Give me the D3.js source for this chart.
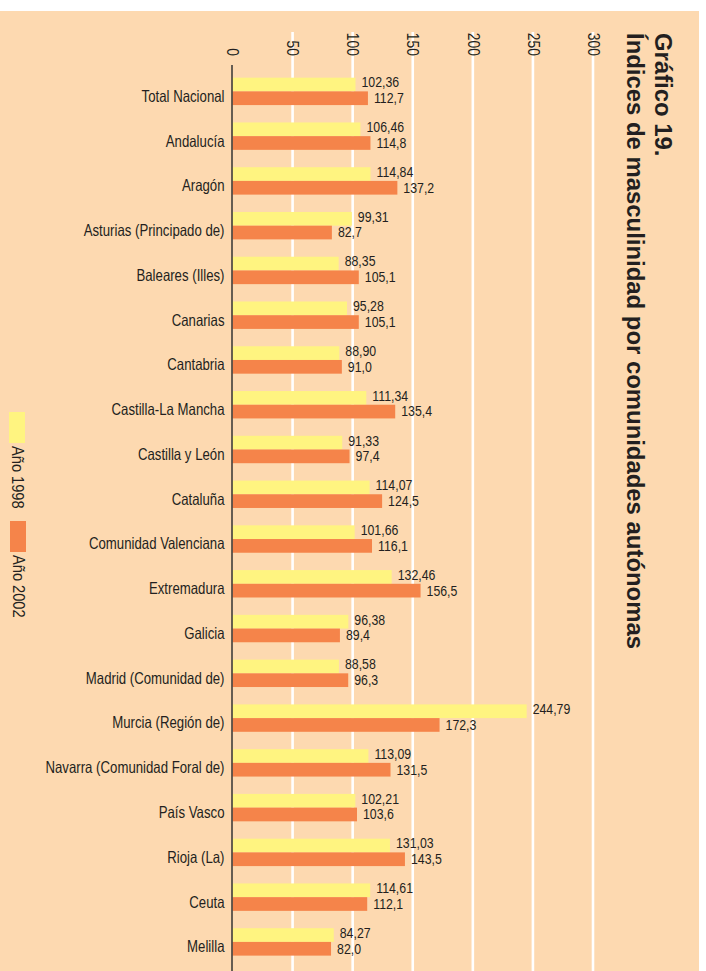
<!DOCTYPE html>
<html><head><meta charset="utf-8">
<script src="https://cdn.jsdelivr.net/npm/d3@7"></script>
<style>
html,body{margin:0;padding:0;background:#fff;}
svg{display:block;}
text{fill:#231f20;}
.nar{font-family:"Liberation Sans",Arial,sans-serif;}
</style></head>
<body><svg id="c" width="706" height="971"></svg>
<script>
const categories = ["Total Nacional","Andalucía","Aragón","Asturias (Principado de)","Baleares (Illes)","Canarias","Cantabria","Castilla-La Mancha","Castilla y León","Cataluña","Comunidad Valenciana","Extremadura","Galicia","Madrid (Comunidad de)","Murcia (Región de)","Navarra (Comunidad Foral de)","País Vasco","Rioja (La)","Ceuta","Melilla"];
const values1998 = [102.36,106.46,114.84,99.31,88.35,95.28,88.90,111.34,91.33,114.07,101.66,132.46,96.38,88.58,244.79,113.09,102.21,131.03,114.61,84.27];
const values2002 = [112.7,114.8,137.2,82.7,105.1,105.1,91.0,135.4,97.4,124.5,116.1,156.5,89.4,96.3,172.3,131.5,103.6,143.5,112.1,82.0];
const seriesNames = ["Año 1998","Año 2002"];
const tickValues = [0,50,100,150,200,250,300];
const titleLines = ["Gráfico 19.","Índices de masculinidad por comunidades autónomas"];

const colors = ["#fff480","#f5844a"];
const W = 706, H = 971;
const svg = d3.select("#c");

// condense text horizontally (reference uses a condensed typeface)
function condense(sel, f){
  sel.each(function(){
    const L = this.getComputedTextLength();
    d3.select(this).attr("textLength", L*f).attr("lengthAdjust","spacingAndGlyphs");
  });
}

svg.append("rect").attr("x",0).attr("y",11).attr("width",699).attr("height",H-11).attr("fill","#fdd9b0");

const x = d3.scaleLinear().domain([0,300]).range([232.5,593]);
const y = d3.scaleBand().domain(categories).range([69.1,964.4]);
const sub = d3.scaleBand().domain(seriesNames).range([-13.8,13.6]);

// gridlines
svg.append("g").selectAll("line").data(tickValues.filter(d=>d>0)).join("line")
  .attr("x1",d=>x(d)).attr("x2",d=>x(d)).attr("y1",32).attr("y2",H)
  .attr("stroke","#fff").attr("stroke-width",2.6);

// top axis with rotated labels
const ax = svg.append("g").attr("transform","translate(0,56)")
  .call(d3.axisTop(x).tickValues(tickValues).tickSize(0).tickFormat(d3.format("d")));
ax.select(".domain").remove();
ax.selectAll("text").attr("class","nar").attr("font-size",16.5).attr("font-family",null)
  .attr("transform","rotate(90)").attr("x",0).attr("y",0).attr("dy","0.35em")
  .attr("text-anchor","end").style("fill","#231f20").call(condense,0.84);

// bars
const fmt1 = v => d3.format(".2f")(v).replace(".",",");
const fmt2 = v => d3.format(".1f")(v).replace(".",",");
const rows = categories.map((c,i)=>({c, vals:[values1998[i],values2002[i]]}));
const g = svg.append("g");
rows.forEach(r=>{
  const cy = y(r.c) + y.bandwidth()/2;
  r.vals.forEach((v,k)=>{
    g.append("rect").attr("x",x(0)).attr("y",cy+sub(seriesNames[k]))
      .attr("width",x(v)-x(0)).attr("height",sub.bandwidth()).attr("fill",colors[k]);
    g.append("text").attr("class","nar vl").attr("font-size",14)
      .attr("x",x(v)+6).attr("y",cy+sub(seriesNames[k])+sub.bandwidth()/2 + (k===0?-2:0))
      .attr("dy","0.35em").text(k===0?fmt1(v):fmt2(v));
  });
});
g.selectAll("text.vl").call(condense,0.88);

// left axis with category labels
const ay = svg.append("g").attr("transform",`translate(${x(0)},5)`)
  .call(d3.axisLeft(y).tickSize(0).tickPadding(8));
ay.select(".domain").remove();
ay.selectAll("text").attr("class","nar").attr("font-size",16.5).style("fill","#231f20").call(condense,0.8);
ay.attr("font-family",null);
svg.append("line").attr("x1",x(0)-0.5).attr("x2",x(0)-0.5).attr("y1",65).attr("y2",H)
  .attr("stroke","#333").attr("stroke-width",1.5);

// title
svg.append("g").selectAll("text").data(titleLines).join("text")
  .attr("transform",(d,i)=>`translate(${[655,627][i]},33) rotate(90)`)
  .attr("font-family","'Liberation Sans',Arial,sans-serif").attr("font-weight","bold")
  .attr("font-size",23.9).text(d=>d);

// legend
const lg = svg.append("g");
const legY = [412,521];
seriesNames.forEach((s,i)=>{
  lg.append("rect").attr("x",9+i).attr("y",legY[i]).attr("width",16).attr("height",31).attr("fill",colors[i]);
  lg.append("text").attr("class","nar lt").attr("font-size",17)
    .attr("transform",`translate(${12+i},${legY[i]+34}) rotate(90)`).text(s);
});
lg.selectAll("text.lt").call(condense,0.86);
</script></body></html>
